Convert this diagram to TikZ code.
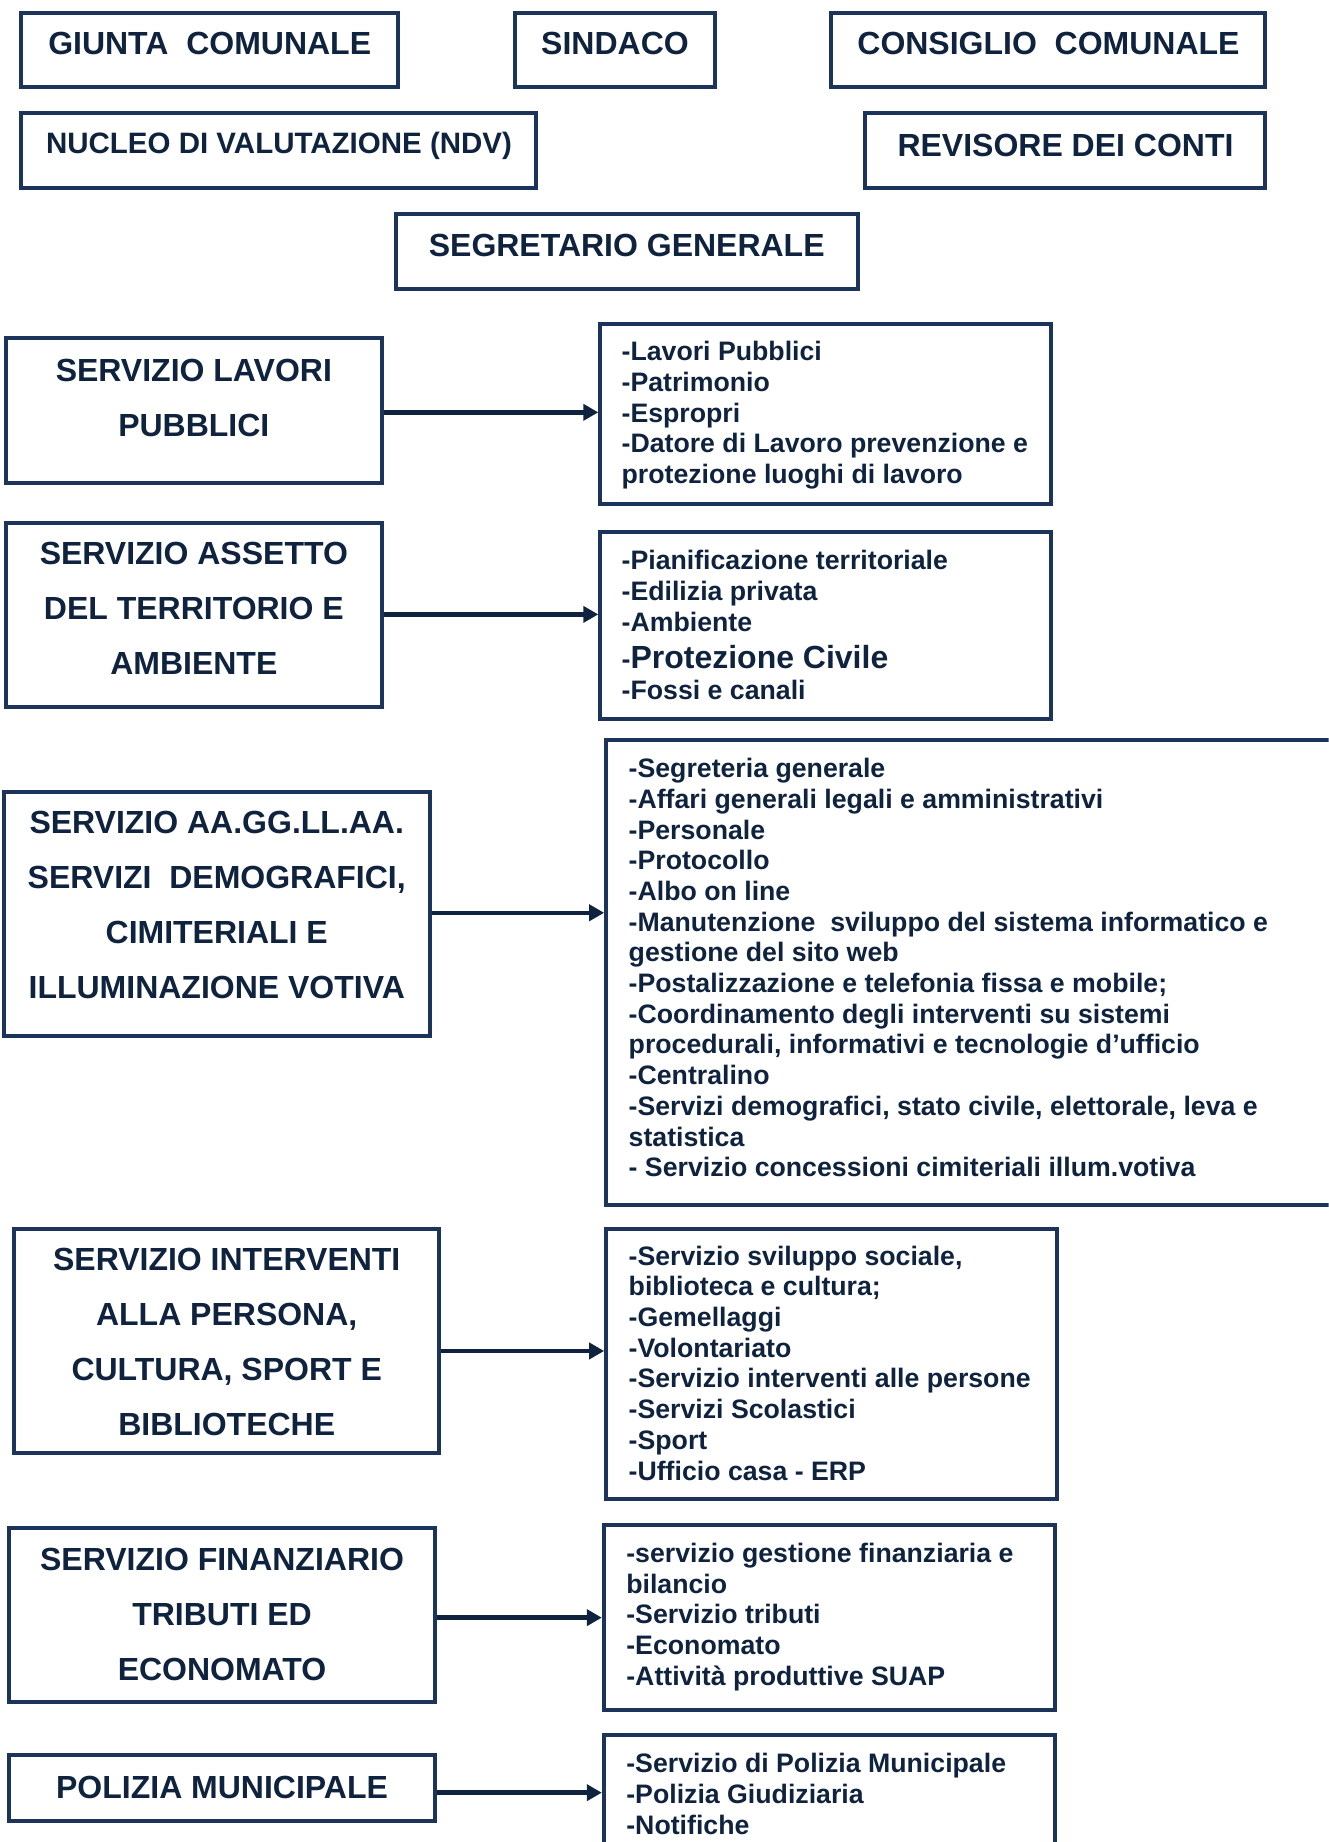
\documentclass[tikz,border=0pt]{standalone}
\usepackage{fontspec}
\setmainfont{Liberation Sans}
\usetikzlibrary{fit,arrows.meta}
\definecolor{navy}{RGB}{28,52,90}
\definecolor{ink}{RGB}{15,35,62}
\tikzset{
  box/.style={draw=navy, line width=4pt, inner sep=0pt},
  head/.style={anchor=base, inner sep=0pt, text=ink, font=\fontsize{32}{38}\selectfont\bfseries},
  svc/.style={anchor=base, inner sep=0pt, text=ink, font=\fontsize{32}{55}\selectfont\bfseries},
  lst/.style={anchor=base west, inner sep=0pt, text=ink, font=\fontsize{26.7}{30.7}\selectfont\bfseries},
  arr/.style={draw=ink, line width=4.5pt, -{Triangle[length=15pt,width=16pt]}}
}
\newcommand{\tl}[1]{\begin{tabular}[t]{@{}l@{}}#1\end{tabular}}
\newcommand{\tc}[1]{\begin{tabular}[t]{@{}c@{}}#1\end{tabular}}
\begin{document}
\begin{tikzpicture}[x=1.175pt,y=-1.175pt]
\useasboundingbox (0,0) rectangle (1131,1568);
\clip (0,0) rectangle (1131,1568);
% top boxes
\node[box, fit={(18,11) (339,74)}] (giunta) {};
\node[head] (giuntaT) at (178.5,46.8) {GIUNTA~~COMUNALE};
\node[box, fit={(438,11) (609,74)}] (sindaco) {};
\node[head] (sindacoT) at (523.5,46.8) {SINDACO};
\node[box, fit={(707,11) (1077,74)}] (consiglio) {};
\node[head] (consiglioT) at (892.5,46.8) {CONSIGLIO~~COMUNALE};
\node[box, fit={(18,96) (456,160)}] (ndv) {};
\node[head, font=\fontsize{29.5}{36}\selectfont\bfseries] (ndvT) at (237.5,130.5) {NUCLEO DI VALUTAZIONE (NDV)};
\node[box, fit={(736,96) (1077,160)}] (revisore) {};
\node[head] (revisoreT) at (907,133.5) {REVISORE DEI CONTI};
\node[box, fit={(337,182) (730,246)}] (segretario) {};
\node[head] (segretarioT) at (533.5,218.5) {SEGRETARIO GENERALE};
% left service boxes
\node[box, fit={(5,288) (325,411)}] (lpL) {};
\node[svc] (lpLT) at (165,324.75) {\tc{SERVIZIO LAVORI\\PUBBLICI}};
\node[box, fit={(5,445) (325,602)}] (atL) {};
\node[svc] (atLT) at (165,480.75) {\tc{SERVIZIO ASSETTO\\DEL TERRITORIO E\\AMBIENTE}};
\node[box, fit={(3,674) (366,882)}] (agL) {};
\node[svc] (agLT) at (184.5,709.75) {\tc{SERVIZIO AA.GG.LL.AA.\\SERVIZI~~DEMOGRAFICI,\\CIMITERIALI E\\ILLUMINAZIONE VOTIVA}};
\node[box, fit={(12,1046) (374,1237)}] (ipL) {};
\node[svc] (ipLT) at (193,1081.75) {\tc{SERVIZIO INTERVENTI\\ALLA PERSONA,\\CULTURA, SPORT E\\BIBLIOTECHE}};
\node[box, fit={(8,1301) (370,1449)}] (sfL) {};
\node[svc] (sfLT) at (189,1336.75) {\tc{SERVIZIO FINANZIARIO\\TRIBUTI ED\\ECONOMATO}};
\node[box, fit={(8,1494) (370,1550)}] (pmL) {};
\node[svc] (pmLT) at (189,1530.75) {POLIZIA MUNICIPALE};
% right list boxes
\node[box, fit={(511,276) (895,429)}] (lpR) {};
\node[lst] (lpRT) at (529,307.2) {\tl{-Lavori Pubblici\\-Patrimonio\\-Espropri\\-Datore di Lavoro prevenzione e\\protezione luoghi di lavoro}};
\node[box, fit={(511,453) (895,612)}] (atR) {};
\node[lst] (atRT) at (529,485) {\tl{-Pianificazione territoriale\\-Edilizia privata\\-Ambiente\\[5pt]-{\fontsize{32}{38}\selectfont Protezione Civile}\\-Fossi e canali}};
\node[box, fit={(516,630) (1145,1026)}] (agR) {};
\node[lst] (agRT) at (535,662) {\tl{-Segreteria generale\\-Affari generali legali e amministrativi\\-Personale\\-Protocollo\\-Albo on line\\-Manutenzione~~sviluppo del sistema informatico e\\gestione del sito web\\-Postalizzazione e telefonia fissa e mobile;\\-Coordinamento degli interventi su sistemi\\procedurali, informativi e tecnologie d’ufficio\\-Centralino\\-Servizi demografici, stato civile, elettorale, leva e\\statistica\\- Servizio concessioni cimiteriali illum.votiva}};
\node[box, fit={(516,1046) (900,1276)}] (ipR) {};
\node[lst] (ipRT) at (535,1077) {\tl{-Servizio sviluppo sociale,\\biblioteca e cultura;\\-Gemellaggi\\-Volontariato\\-Servizio interventi alle persone\\-Servizi Scolastici\\-Sport\\-Ufficio casa - ERP}};
\node[box, fit={(514,1298) (898,1456)}] (sfR) {};
\node[lst] (sfRT) at (533,1330) {\tl{-servizio gestione finanziaria e\\bilancio\\-Servizio tributi\\-Economato\\-Attività produttive SUAP}};
\node[box, fit={(514,1477) (898,1590)}] (pmR) {};
\node[lst] (pmRT) at (533,1509) {\tl{-Servizio di Polizia Municipale\\-Polizia Giudiziaria\\-Notifiche}};
% arrows
\coordinate (y1) at (0,351);
\coordinate (y2) at (0,523);
\coordinate (y3) at (0,777);
\coordinate (y4) at (0,1150);
\coordinate (y5) at (0,1377);
\coordinate (y6) at (0,1526);
\draw[arr] (lpL.east |- y1) -- (lpR.west |- y1);
\draw[arr] (atL.east |- y2) -- (atR.west |- y2);
\draw[arr] (agL.east |- y3) -- (agR.west |- y3);
\draw[arr] (ipL.east |- y4) -- (ipR.west |- y4);
\draw[arr] (sfL.east |- y5) -- (sfR.west |- y5);
\draw[arr] (pmL.east |- y6) -- (pmR.west |- y6);
\end{tikzpicture}
\end{document}
